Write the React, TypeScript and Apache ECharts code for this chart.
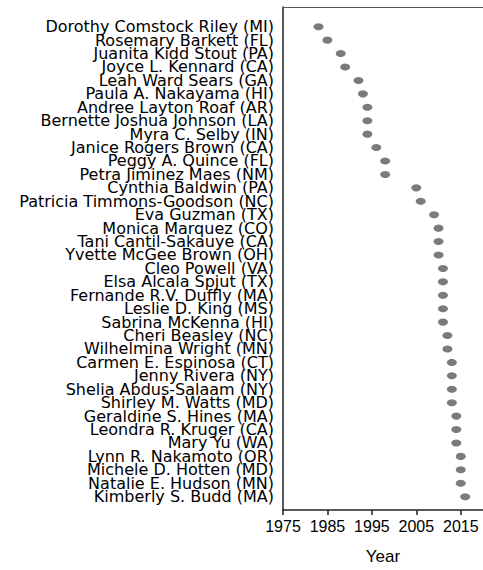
import React, { useEffect, useRef } from "react";
import * as echarts from "echarts";

const judges: string[] = [
  "Dorothy Comstock Riley (MI)",
  "Rosemary Barkett (FL)",
  "Juanita Kidd Stout (PA)",
  "Joyce L. Kennard (CA)",
  "Leah Ward Sears (GA)",
  "Paula A. Nakayama (HI)",
  "Andree Layton Roaf (AR)",
  "Bernette Joshua Johnson (LA)",
  "Myra C. Selby (IN)",
  "Janice Rogers Brown (CA)",
  "Peggy A. Quince (FL)",
  "Petra Jiminez Maes (NM)",
  "Cynthia Baldwin (PA)",
  "Patricia Timmons-Goodson (NC)",
  "Eva Guzman (TX)",
  "Monica Marquez (CO)",
  "Tani Cantil-Sakauye (CA)",
  "Yvette McGee Brown (OH)",
  "Cleo Powell (VA)",
  "Elsa Alcala Spjut (TX)",
  "Fernande R.V. Duffly (MA)",
  "Leslie D. King (MS)",
  "Sabrina McKenna (HI)",
  "Cheri Beasley (NC)",
  "Wilhelmina Wright (MN)",
  "Carmen E. Espinosa (CT)",
  "Jenny Rivera (NY)",
  "Shelia Abdus-Salaam (NY)",
  "Shirley M. Watts (MD)",
  "Geraldine S. Hines (MA)",
  "Leondra R. Kruger (CA)",
  "Mary Yu (WA)",
  "Lynn R. Nakamoto (OR)",
  "Michele D. Hotten (MD)",
  "Natalie E. Hudson (MN)",
  "Kimberly S. Budd (MA)",
];

const years: number[] = [
  1983, 1985, 1988, 1989, 1992, 1993, 1994, 1994, 1994, 1996, 1998, 1998,
  2005, 2006, 2009, 2010, 2010, 2010, 2011, 2011, 2011, 2011, 2011, 2012,
  2012, 2013, 2013, 2013, 2013, 2014, 2014, 2014, 2015, 2015, 2015, 2016,
];

const xMin = 1975;
const xMax = 2020;
const xInterval = 10;
const axisTitle = "Year";

export default function App() {
  const ref = useRef<HTMLDivElement>(null);
  useEffect(() => {
    if (!ref.current) return;
    const chart = echarts.init(ref.current, null, { renderer: "svg" });
    const font = "'Liberation Sans', Arial, Helvetica, sans-serif";
    const wideFont = "'DejaVu Sans', 'Liberation Sans', sans-serif";
    chart.setOption({
      animation: false,
      backgroundColor: "#ffffff",
      textStyle: { fontFamily: font },
      grid: [
        { left: 283, top: 7, right: 0, bottom: 52 },
        { left: 283, top: 20, right: 0, bottom: 66.6 },
      ],
      xAxis: [
        {
          gridIndex: 0,
          type: "value",
          position: "bottom",
          min: xMin,
          max: xMax,
          interval: xInterval,
          name: axisTitle,
          nameLocation: "middle",
          nameGap: 38,
          nameTextStyle: { fontSize: 17, color: "#000", fontFamily: font, fontWeight: 500 },
          axisLine: { show: true, lineStyle: { color: "#222", width: 1.5 } },
          axisTick: { show: true, length: 5, lineStyle: { color: "#222", width: 1.5 } },
          axisLabel: {
            fontSize: 16,
            color: "#000",
            fontFamily: font,
            margin: 8,
            showMaxLabel: false,
            formatter: (v: number) => String(v),
          },
          splitLine: { show: false },
        },
        {
          gridIndex: 0,
          type: "value",
          position: "top",
          min: xMin,
          max: xMax,
          axisLine: { show: true, lineStyle: { color: "#555", width: 1 } },
          axisTick: { show: false },
          axisLabel: { show: false },
          splitLine: { show: false },
        },
        {
          gridIndex: 1,
          type: "value",
          min: xMin,
          max: xMax,
          show: false,
          splitLine: { show: false },
        },
      ],
      yAxis: [
        {
          gridIndex: 0,
          type: "value",
          axisLine: { show: true, onZero: false, lineStyle: { color: "#222", width: 1.5 } },
          axisTick: { show: false },
          axisLabel: { show: false },
          splitLine: { show: false },
        },
        {
          gridIndex: 1,
          type: "category",
          data: judges,
          inverse: true,
          axisLine: { show: false },
          axisTick: { show: false },
          axisLabel: {
            fontSize: 16,
            lineHeight: 13,
            color: "#000",
            fontFamily: wideFont,
            margin: 9,
            interval: 0,
          },
          splitLine: { show: false },
        },
      ],
      series: [
        {
          type: "scatter",
          xAxisIndex: 2,
          yAxisIndex: 1,
          data: years.map((y, i) => [y, judges[i]]),
          symbol: "circle",
          symbolSize: [10, 7],
          itemStyle: { color: "#5a5a5a" },
        },
      ],
    });
    return () => chart.dispose();
  }, []);
  return (
    <div
      ref={ref}
      style={{ position: "absolute", left: 0, top: 0, width: 483, height: 570 }}
    />
  );
}
